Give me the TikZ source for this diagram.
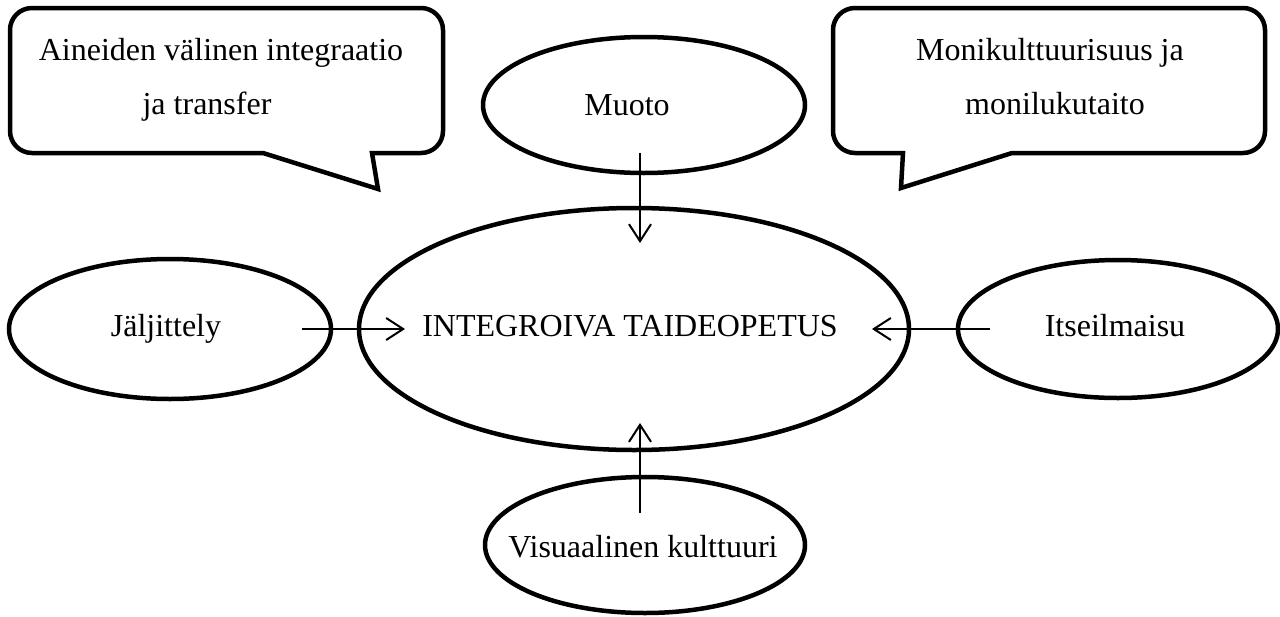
\documentclass[tikz,border=0pt]{standalone}
\usepackage{fontspec}
\setmainfont{Liberation Serif}
\usetikzlibrary{shapes.geometric,arrows.meta,calc}
\tikzset{
  oval/.style={draw=black, line width=4.5pt, ellipse, inner sep=0pt, outer sep=0pt},
  callout/.style={draw=black, line width=4.5pt, line join=miter},
  txt/.style={anchor=base, inner sep=0pt, font=\fontsize{32}{38}\selectfont},
  link/.style={draw=black, line width=2pt, -{Straight Barb[length=17pt,width=22pt,line width=2pt]}}
}
\begin{document}
\begin{tikzpicture}[x=1pt,y=-1pt]
\useasboundingbox (0,0) rectangle (1280,616);
% callouts
\draw[callout] (372,153) [rounded corners=22pt] -- (443,153) -- (443,8) -- (10,8) -- (10,153) [sharp corners] -- (263,153) -- (378,189) -- cycle;
\draw[callout] (1012,153) [rounded corners=22pt] -- (1265,153) -- (1265,8) -- (833,8) -- (833,153) [sharp corners] -- (903,153) -- (901,188) -- cycle;
\node[txt] (l1) at (221,60) {Aineiden välinen integraatio};
\node[txt] (l2) at (207,114) {ja transfer};
\node[txt] (r1) at (1050,60) {Monikulttuurisuus ja};
\node[txt] (r2) at (1055,114) {monilukutaito};
% ellipses
\node[oval, minimum width=322pt, minimum height=136pt] (muo) at (644,105) {};
\node[oval, minimum width=550pt, minimum height=242pt] (cen) at (634,329) {};
\node[oval, minimum width=322pt, minimum height=140pt] (jal) at (170,329) {};
\node[oval, minimum width=320pt, minimum height=138pt] (its) at (1118,329) {};
\node[oval, minimum width=320pt, minimum height=136pt] (vis) at (645,545) {};
% texts
\node[txt] (tmuo) at (627,115) {Muoto};
\node[txt] (tcen) at (630,336) {INTEGROIVA TAIDEOPETUS};
\node[txt] (tjal) at (166,336) {Jäljittely};
\node[txt] (tits) at (1115,336) {Itseilmaisu};
\node[txt] (tvis) at (643,557) {Visuaalinen kulttuuri};
% arrows
\draw[link] ($(muo.south)+(-4,-20)$) -- ($(cen.north)+(6,35)$);
\draw[link] ($(vis.north)+(-5,36)$) -- ($(cen.south)+(6,-27)$);
\draw[link] ($(jal.east)+(-29,0)$) -- ($(cen.west)+(46,0)$);
\draw[link] ($(its.west)+(32,0)$) -- ($(cen.east)+(-37,0)$);
\end{tikzpicture}
\end{document}
